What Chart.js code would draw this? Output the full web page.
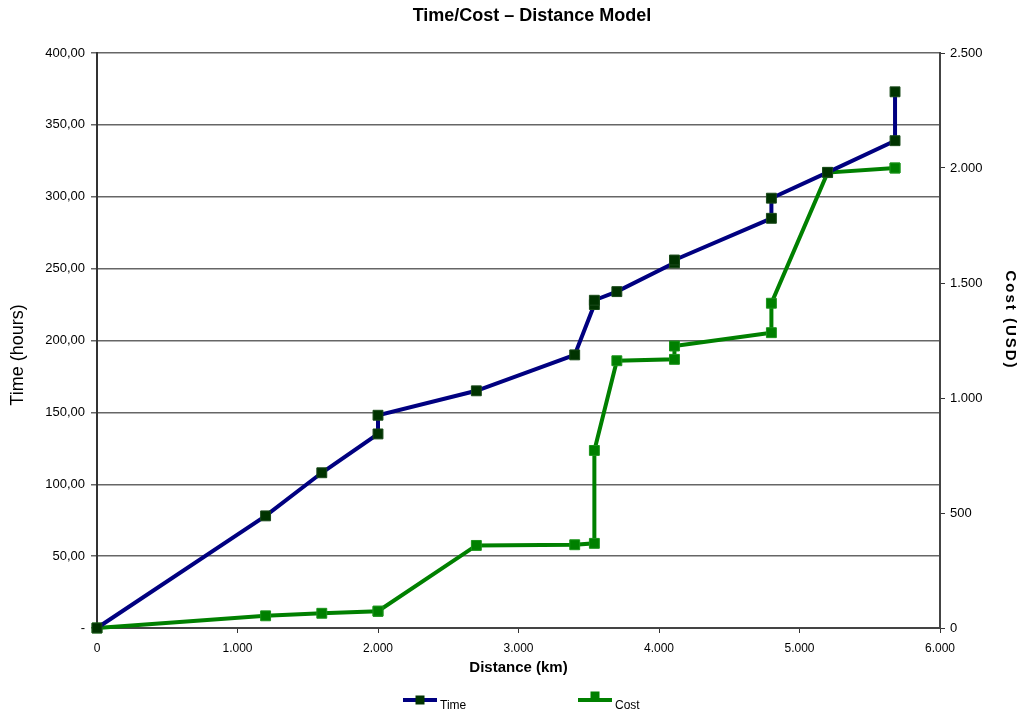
<!DOCTYPE html>
<html>
<head>
<meta charset="utf-8">
<script src="https://cdn.jsdelivr.net/npm/chart.js@4/dist/chart.umd.min.js"></script>
<style>
  html, body { margin: 0; padding: 0; background: #fff; }
  #wrap { width: 1020px; height: 715px; }
</style>
</head>
<body>
<div id="wrap"><canvas id="c" width="1020" height="715"></canvas></div>
<script>
// ---- data ----
const distanceKm = [0, 1200, 1600, 2000, 2000, 2700, 3400, 3540, 3540, 3700, 4110, 4110, 4800, 4800, 5200, 5680, 5680];
const timeHours  = [0, 78, 108, 135, 148, 165, 190, 225, 228, 234, 254, 256, 285, 299, 317, 339, 373];
const costUsd    = [0, 53, 64, 73, 73, 359, 362, 368, 772, 1162, 1168, 1226, 1284, 1412, 1980, 2000, 2000];

const timeTickLabels = ['-', '50,00', '100,00', '150,00', '200,00', '250,00', '300,00', '350,00', '400,00'];
const costTickLabels = ['0', '500', '1.000', '1.500', '2.000', '2.500'];
const distanceTickLabels = ['0', '1.000', '2.000', '3.000', '4.000', '5.000', '6.000'];

const seriesNames = ['Time', 'Cost'];
const chartTitle = 'Time/Cost \u2013 Distance Model';
const xAxisTitle = 'Distance (km)';
const timeAxisTitle = 'Time (hours)';
const costAxisTitle = 'Cost (USD)';

// ---- chart ----
const FONT = '"Liberation Sans", Arial, sans-serif';
Chart.defaults.font.family = FONT;
Chart.defaults.color = '#000';

const timePoints = distanceKm.map((d, i) => ({ x: d, y: timeHours[i] }));
const costPoints = distanceKm.map((d, i) => ({ x: d, y: costUsd[i] }));

const overlay = {
  id: 'overlay',
  afterDraw(chart) {
    const ctx = chart.ctx;
    ctx.save();
    ctx.fillStyle = '#000';
    ctx.textAlign = 'center';
    ctx.textBaseline = 'middle';
    // main title
    ctx.font = 'bold 18px ' + FONT;
    ctx.fillText(chartTitle, 532, 16);
    // left axis title
    ctx.save();
    ctx.translate(18, 355);
    ctx.rotate(-Math.PI / 2);
    ctx.font = '18px ' + FONT;
    ctx.fillText(timeAxisTitle, 0, 0);
    ctx.restore();
    // right axis title
    ctx.save();
    ctx.translate(1010, 320);
    ctx.rotate(Math.PI / 2);
    ctx.font = 'bold 15px ' + FONT;
    try { ctx.letterSpacing = '2px'; } catch (e) {}
    ctx.fillText(costAxisTitle, 0, 0);
    ctx.restore();
    // legend
    const legendX = [403, 578];
    const legendY = 700;
    chart.data.datasets.forEach((ds, i) => {
      const x0 = legendX[i];
      ctx.strokeStyle = ds.borderColor;
      ctx.lineWidth = 4;
      ctx.beginPath();
      ctx.moveTo(x0, legendY);
      ctx.lineTo(x0 + 34, legendY);
      ctx.stroke();
      ctx.fillStyle = ds.pointBackgroundColor;
      const my = i === 0 ? legendY : legendY - 4;
      ctx.fillRect(x0 + 17 - 4.5, my - 4.5, 9, 9);
      ctx.fillStyle = '#000';
      ctx.textAlign = 'left';
      ctx.font = '12px ' + FONT;
      ctx.fillText(ds.label, x0 + 37, legendY + 6);
    });
    ctx.restore();
  }
};

new Chart(document.getElementById('c'), {
  type: 'line',
  data: {
    datasets: [
      {
        label: seriesNames[0],
        data: timePoints,
        yAxisID: 'y',
        borderColor: '#000080',
        borderWidth: 4,
        pointStyle: 'rect',
        pointRadius: 7,
        pointHoverRadius: 7,
        pointBackgroundColor: '#003300',
        pointBorderColor: '#1a4a1a',
        pointBorderWidth: 1,
        tension: 0,
        clip: false
      },
      {
        label: seriesNames[1],
        data: costPoints,
        yAxisID: 'y1',
        borderColor: '#008000',
        borderWidth: 4,
        pointStyle: 'rect',
        pointRadius: 7,
        pointHoverRadius: 7,
        pointBackgroundColor: '#008000',
        pointBorderColor: '#1a941a',
        pointBorderWidth: 1,
        tension: 0,
        clip: false
      }
    ]
  },
  options: {
    responsive: false,
    animation: false,
    devicePixelRatio: 1,
    layout: { padding: { top: 53, bottom: 32, left: 0, right: 0 } },
    plugins: {
      legend: { display: false },
      title: { display: false },
      tooltip: { enabled: false }
    },
    scales: {
      x: {
        type: 'linear',
        position: 'bottom',
        min: 0,
        max: 6000,
        ticks: {
          stepSize: 1000,
          maxRotation: 0,
          padding: 8,
          font: { size: 12 },
          color: '#000',
          callback: (v, i) => distanceTickLabels[i]
        },
        grid: { drawOnChartArea: false, drawTicks: true, tickLength: 5, color: '#333', lineWidth: 1 },
        border: { color: '#444', width: 2 },
        title: { display: true, text: xAxisTitle, font: { size: 15, weight: 'bold' }, padding: { top: 2, bottom: 6 }, color: '#000' },
        afterFit: s => { s.height = 55; }
      },
      y: {
        type: 'linear',
        position: 'left',
        min: 0,
        max: 400,
        ticks: {
          stepSize: 50,
          padding: 6,
          font: { size: 13 },
          color: '#000',
          callback: (v, i) => timeTickLabels[i]
        },
        grid: { drawOnChartArea: true, drawTicks: true, tickLength: 6, color: '#666', lineWidth: 1.5 },
        border: { color: '#333', width: 2 },
        afterFit: s => { s.width = 97; }
      },
      y1: {
        type: 'linear',
        position: 'right',
        min: 0,
        max: 2500,
        ticks: {
          stepSize: 500,
          padding: 5,
          font: { size: 13 },
          color: '#000',
          callback: (v, i) => costTickLabels[i]
        },
        grid: { drawOnChartArea: false, drawTicks: true, tickLength: 5, color: '#333', lineWidth: 1 },
        border: { color: '#444', width: 2 },
        afterFit: s => { s.width = 80; }
      }
    }
  },
  plugins: [overlay]
});
</script>
</body>
</html>
